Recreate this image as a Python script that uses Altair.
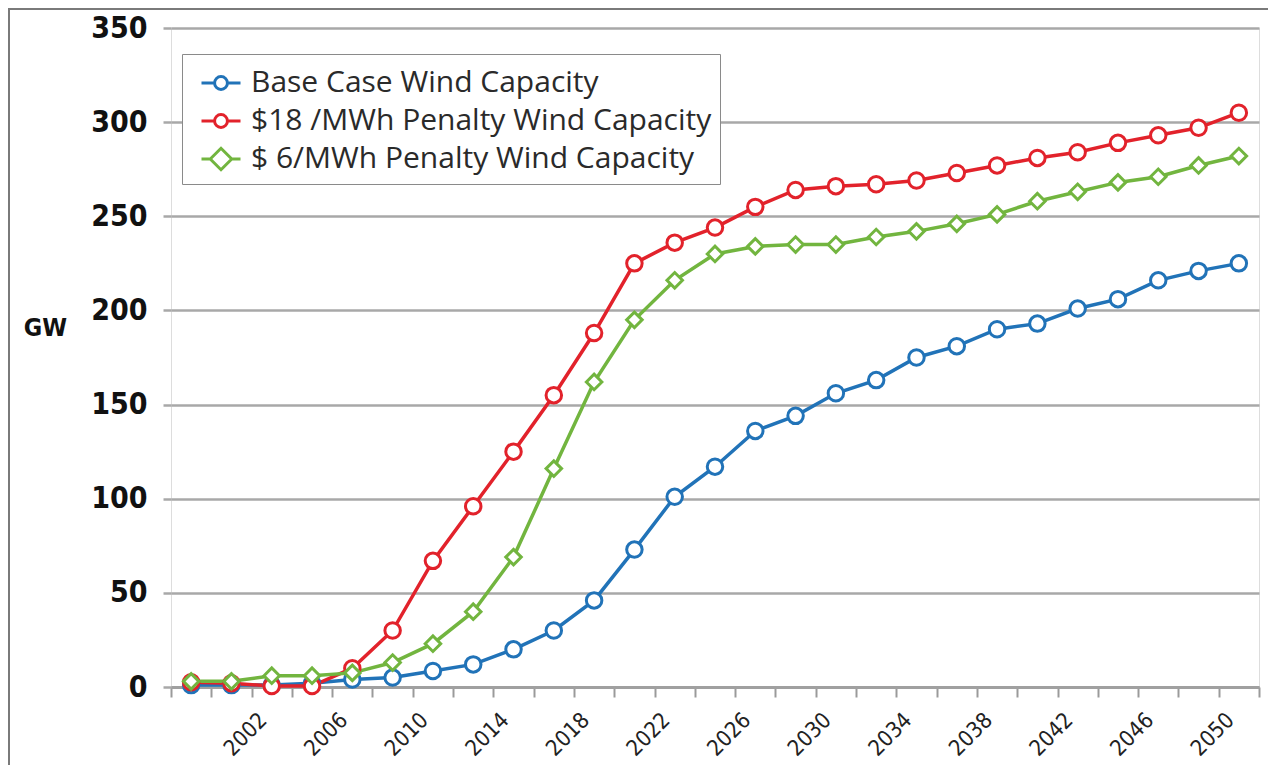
import altair as alt
import pandas as pd

years = list(range(1998, 2051, 2))
series_names = [
    "Base Case Wind Capacity",
    "$18 /MWh Penalty Wind Capacity",
    "$ 6/MWh Penalty Wind Capacity",
]
base = [1, 1, 1, 2, 4, 5, 8.5, 12, 20, 30, 46, 73, 101, 117, 136, 144, 156, 163, 175, 181, 190, 193, 201, 206, 216, 221, 225]
p18 = [2.5, 2, 0.5, 0.5, 10, 30, 67, 96, 125, 155, 188, 225, 236, 244, 255, 264, 266, 267, 269, 273, 277, 281, 284, 289, 293, 297, 305]
p6 = [3, 3, 6, 6, 7.5, 13, 23, 40, 69, 116, 162, 195, 216, 230, 234, 235, 235, 239, 242, 246, 251, 258, 263, 268, 271, 277, 282]
colors = ["#2173b8", "#e2222b", "#72b53f"]
y_ticks = [0, 50, 100, 150, 200, 250, 300, 350]

rows = []
for name, vals in zip(series_names, [base, p18, p6]):
    for yr, v in zip(years, vals):
        rows.append({"year": yr, "value": v, "series": name})
df = pd.DataFrame(rows)

CIRCLE_STUB = "M-1,0H-0.33M0.33,0H1M-0.33,0A0.33,0.33 0 1,1 0.33,0A0.33,0.33 0 1,1 -0.33,0Z"
DIAMOND_STUB = "M-1,0H-0.55M0.55,0H1M-0.55,0L0,-0.55L0.55,0L0,0.55Z"

xenc = alt.X(
    "year:O",
    scale=alt.Scale(type="band", paddingInner=0, paddingOuter=0),
    axis=alt.Axis(
        title=None,
        labelExpr="(datum.value >= 2002 && (datum.value - 2002) % 4 == 0) ? datum.value : ''",
        labelAngle=-45,
        labelAlign="right",
        labelBaseline="top",
        labelPadding=12,
        labelOffset=-16,
        labelFont="DejaVu Sans Condensed",
        labelFontSize=22,
        labelColor="#222222",
        tickBand="extent",
        tickSize=10,
        tickWidth=2,
        tickColor="#9a9a9a",
        domainColor="#a0a0a0",
        domainWidth=3,
        grid=False,
    ),
)
yenc = alt.Y(
    "value:Q",
    scale=alt.Scale(domain=[0, 350], nice=False),
    axis=alt.Axis(
        values=y_ticks,
        title="GW",
        titleAngle=0,
        titleX=-126,
        titleY=299,
        titleAlign="center",
        titleBaseline="middle",
        titleFont="DejaVu Sans Condensed",
        titleFontSize=25,
        titleFontWeight="bold",
        titleColor="#111111",
        labelFont="DejaVu Sans Condensed",
        labelFontSize=30,
        labelFontWeight="bold",
        labelColor="#111111",
        labelPadding=16,
        domain=False,
        tickSize=8,
        tickWidth=2.5,
        tickColor="#a8a8a8",
        grid=True,
        gridColor="#a8a8a8",
        gridWidth=2.5,
    ),
)

color_scale = alt.Scale(domain=series_names, range=colors)
legend = alt.Legend(
    title=None,
    orient="none",
    legendX=11,
    legendY=26,
    labelFont="Open Sans",
    labelFontSize=30,
    labelColor="#2a2a2a",
    labelOffset=9,
    labelLimit=800,
    symbolOffset=10,
    symbolSize=1521,
    symbolStrokeWidth=3,
    symbolFillColor="white",
    symbolOpacity=1,
    rowPadding=2,
    padding=8,
    strokeColor="#8a8a8a",
    fillColor="white",
)
color_enc = alt.Color("series:N", scale=color_scale, sort=series_names, legend=legend)

lines = alt.Chart(df).mark_line(strokeWidth=3.5).encode(
    x=xenc, y=yenc, color=color_enc, detail="series:N"
)

legend_carrier = alt.Chart(df).mark_point(filled=False, fill="white", opacity=0, size=1521).encode(
    x=xenc,
    y=yenc,
    color=color_enc,
    shape=alt.Shape(
        "series:N",
        sort=series_names,
        scale=alt.Scale(domain=series_names, range=[CIRCLE_STUB, CIRCLE_STUB, DIAMOND_STUB]),
        legend=legend,
    ),
)

points = alt.Chart(df).mark_point(filled=False, fill="white", size=240, strokeWidth=3, opacity=1).encode(
    x=xenc,
    y=yenc,
    color=color_enc,
    shape=alt.condition(
        alt.datum.series == "$ 6/MWh Penalty Wind Capacity",
        alt.value("diamond"),
        alt.value("circle"),
    ),
)

frame_df = pd.DataFrame({"k": [0]})
left_border = alt.Chart(frame_df).mark_rule(color="#7a7a7a", strokeWidth=2).encode(
    x=alt.value(-162), y=alt.value(-19), y2=alt.value(750)
)
top_border = alt.Chart(frame_df).mark_rule(color="#7a7a7a", strokeWidth=2).encode(
    x=alt.value(-163), x2=alt.value(1110), y=alt.value(-19)
)

chart = (
    alt.layer(lines, legend_carrier, points, left_border, top_border)
    .properties(
        width=1088,
        height=659,
        autosize=alt.AutoSizeParams(type="none"),
        padding={"left": 163, "top": 20, "right": 9, "bottom": 78},
    )
    .configure_view(stroke=None)
    .configure_legend(strokeWidth=2)
    .configure(background="white")
)

chart.save("out.html", embed_options={"renderer": "svg", "actions": False})
